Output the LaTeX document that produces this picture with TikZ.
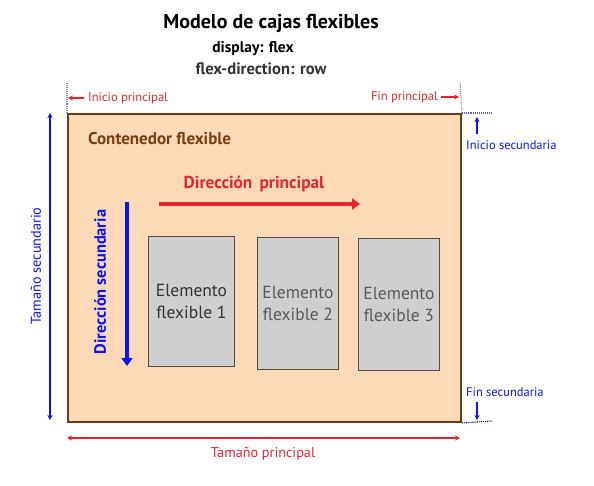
\documentclass[tikz,border=0pt]{standalone}
\usepackage{fontspec}
\setmainfont{PT Sans}
\usetikzlibrary{arrows.meta}
\definecolor{cfill}{HTML}{FCDAB7}
\definecolor{cborder}{HTML}{6B3A14}
\definecolor{clabel}{HTML}{7A3E12}
\definecolor{cred}{HTML}{E3262E}
\definecolor{cblue}{HTML}{0A14F0}
\definecolor{idot}{HTML}{8A80B8}
\definecolor{ifill}{HTML}{CFCFCF}
\definecolor{iborder}{HTML}{5A4A44}
\tikzset{
  item/.style={draw=iborder, fill=ifill, line width=1pt, inner sep=0pt, align=center,
    font=\fontsize{17.5}{22}\selectfont},
  redtxt/.style={text=cred, font=\fontsize{12.5}{14}\selectfont, inner sep=0pt},
  bluetxt/.style={text=cblue, font=\fontsize{12.5}{14}\selectfont, inner sep=0pt},
  dotln/.style={densely dotted, line width=1.1pt},
  smallarr/.style={-{Stealth[length=5pt,width=5pt]}, line width=1.4pt},
}
\begin{document}
\begin{tikzpicture}[x=1pt,y=-1pt]
\useasboundingbox (0,0) rectangle (594,486);
% title
\node[font=\bfseries\fontsize{20}{24}\selectfont] (title) at (271,23) {Modelo de cajas flexibles};
\node[font=\bfseries\fontsize{15.5}{18}\selectfont] (disp) at (253,49) {display: flex};
\node[font=\bfseries\fontsize{16.5}{18}\selectfont, text=black!80] (fdir) at (261,69) {flex-direction: row};
% container
\node[draw=cborder, fill=cfill, line width=2pt, minimum width=393pt, minimum height=308pt, inner sep=0pt, anchor=north west] (cont) at (67,113) {};
\node[anchor=west, text=clabel, font=\bfseries\fontsize{17}{19}\selectfont, inner sep=0pt] (clab) at (88,139) {Contenedor flexible};
% dotted guide coordinates
\coordinate (tl) at (67,83);
\coordinate (tr) at (460,82);
\coordinate (rt) at (492,113);
\coordinate (rb) at (492,421);
\draw[dotln, idot] (cont.north west) -- (tl);
\draw[dotln, idot] (cont.north east) -- (tr);
\draw[dotln, idot!70!blue] (cont.north east) -- (rt);
\draw[dotln, blue!60!black] (cont.south east) -- (rb);
% Inicio / Fin principal
\node[redtxt, anchor=west] (ip) at (88,98) {Inicio principal};
\coordinate (ipa) at (84,98);
\coordinate (ipb) at (68,98);
\draw[smallarr, cred] (ipa) -- (ipb);
\node[redtxt, anchor=east] (fp) at (438,97) {Fin principal};
\coordinate (fpa) at (441,97);
\coordinate (fpb) at (459,97);
\draw[smallarr, cred] (fpa) -- (fpb);
% Inicio / Fin secundaria
\node[bluetxt, anchor=west] (is) at (466,145) {Inicio secundaria};
\coordinate (isa) at (477,134);
\coordinate (isb) at (477,117);
\draw[smallarr, cblue] (isa) -- (isb);
\node[bluetxt, anchor=west] (fs) at (466,392) {Fin secundaria};
\coordinate (fsa) at (477,402);
\coordinate (fsb) at (477,420);
\draw[smallarr, cblue] (fsa) -- (fsb);
% Tamaño secundario
\coordinate (ts1) at (50,113);
\coordinate (ts2) at (50,420);
\draw[{Stealth[length=5pt,width=5pt]}-{Stealth[length=5pt,width=5pt]}, line width=1.6pt, cblue] (ts1) -- (ts2);
\node[text=cblue, font=\fontsize{14.2}{16}\selectfont, inner sep=0pt, rotate=90] (tslab) at (36,266) {Tamaño secundario};
% Tamaño principal
\coordinate (tp1) at (67,438);
\coordinate (tp2) at (460,438);
\draw[{Stealth[length=5pt,width=5pt]}-{Stealth[length=5pt,width=5pt]}, line width=1.4pt, cred] (tp1) -- (tp2);
\node[text=cred, font=\fontsize{14.2}{16}\selectfont, inner sep=0pt] (tplab) at (263,454) {Tamaño principal};
% Direccion principal
\node[text=cred, font=\bfseries\fontsize{17.3}{19}\selectfont, inner sep=0pt] (dplab) at (254,184) {Dirección\, principal};
\coordinate (dp1) at (159,204);
\coordinate (dp2) at (360,204);
\draw[-{Triangle[length=8pt,width=11pt]}, line width=4pt, cred] (dp1) -- (dp2);
% Direccion secundaria
\node[text=cblue, font=\bfseries\fontsize{16.4}{18}\selectfont, inner sep=0pt, rotate=90] (dslab) at (100,282) {Dirección secundaria};
\coordinate (ds1) at (127,202);
\coordinate (ds2) at (127,366);
\draw[-{Triangle[length=8pt,width=11pt]}, line width=4pt, cblue] (ds1) -- (ds2);
% items
\node[item, minimum width=86pt, minimum height=130pt, anchor=north west, text=black!80] (e1) at (148,236) {Elemento\\flexible 1};
\node[item, minimum width=81pt, minimum height=132pt, anchor=north west, text=black!65] (e2) at (257,237) {Elemento\\flexible 2};
\node[item, minimum width=81pt, minimum height=132pt, anchor=north west, text=black!65] (e3) at (358,238) {Elemento\\flexible 3};
\end{tikzpicture}
\end{document}
